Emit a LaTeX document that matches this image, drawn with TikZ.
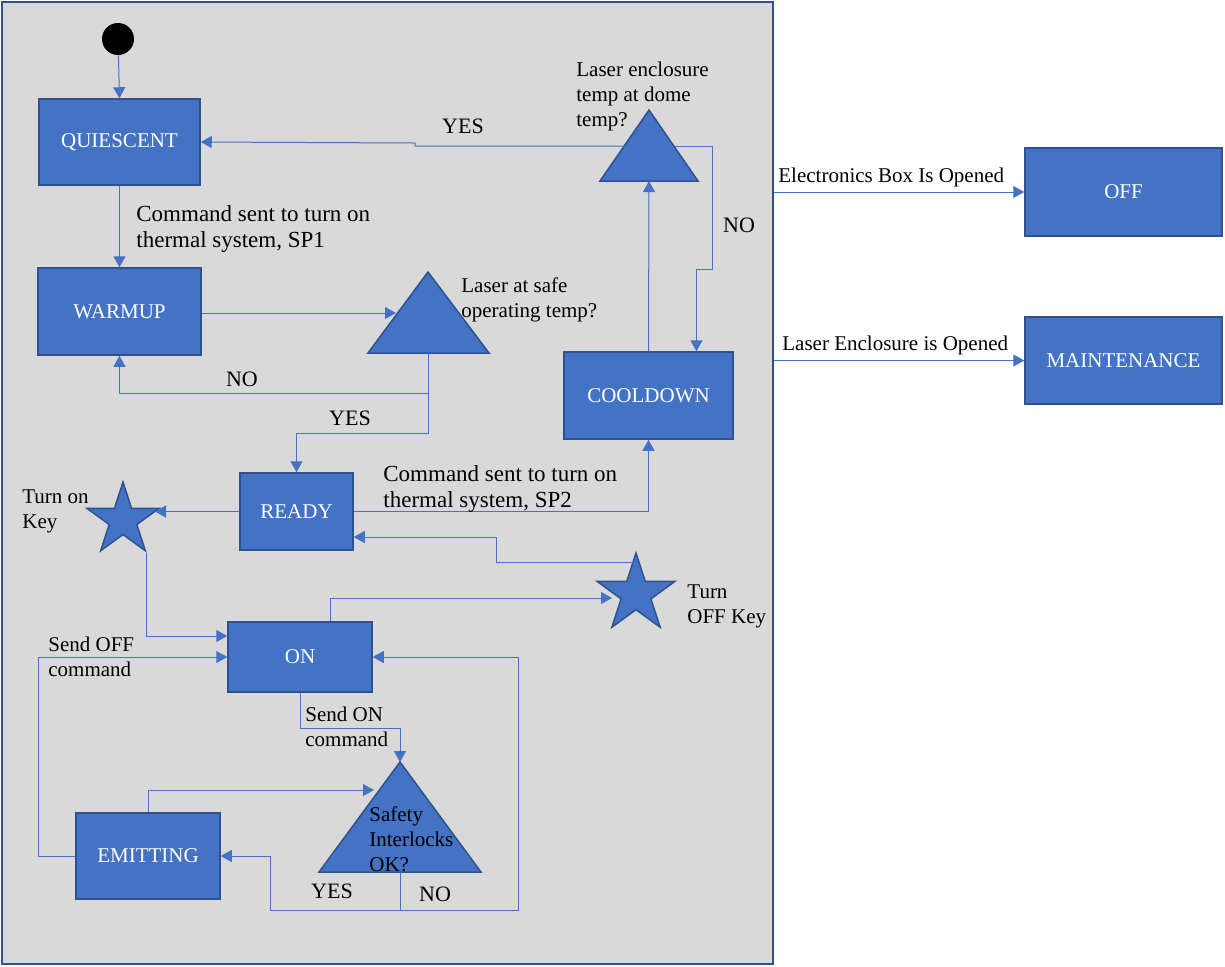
\documentclass[tikz,border=0pt]{standalone}
\usepackage{fontspec}
\setmainfont{Liberation Serif}
\usetikzlibrary{arrows.meta, shapes.geometric}
\definecolor{stateblue}{HTML}{4472C4}
\definecolor{stateedge}{HTML}{2F528F}
\definecolor{panelgray}{HTML}{D9D9D9}

\begin{document}
\begin{tikzpicture}[
    x=0.5pt, y=-0.5pt,
    state/.style={rectangle, draw=stateedge, fill=stateblue, line width=0.75pt, text=white, font=\fontsize{10.5}{12.5}\selectfont},
    decision/.style={draw=stateedge, fill=stateblue, line width=0.75pt},
    keystar/.style={star, star points=5, star point ratio=2.618, draw=stateedge, fill=stateblue, line width=0.75pt, inner sep=0pt},
    flow/.style={-{Triangle[length=5.5pt, width=6pt]}, stateblue, line width=0.5pt},
    note/.style={font=\fontsize{10.5}{12.5}\selectfont, align=left, anchor=north west, inner sep=0pt},
    cmd/.style={note, font=\fontsize{11.5}{13}\selectfont},
    answer/.style={font=\fontsize{11}{13}\selectfont, inner sep=0pt}
]

\path[use as bounding box] (0,0) rectangle (1225,966);

% Grey panel
\node[draw=stateedge, fill=panelgray, line width=0.8pt, minimum width=385.5pt, minimum height=481pt, inner sep=0pt] (panel) at (387.5,483) {};

% Initial state
\node[circle, fill=black, minimum size=16pt, inner sep=0pt] (init) at (118,39) {};

% States
\node[state, minimum width=80.5pt, minimum height=43pt] (quiescent) at (119.5,142) {QUIESCENT};
\node[state, minimum width=81.5pt, minimum height=43.5pt] (warmup) at (119.5,311.5) {WARMUP};
\node[state, minimum width=84.5pt, minimum height=43.5pt] (cooldown) at (648.5,395.5) {COOLDOWN};
\node[state, minimum width=56.5pt, minimum height=38.5pt] (ready) at (296.5,511.5) {READY};
\node[state, minimum width=72pt, minimum height=35pt] (on) at (300,657) {ON};
\node[state, minimum width=72pt, minimum height=43pt] (emitting) at (148,856) {EMITTING};
\node[state, minimum width=98.5pt, minimum height=44pt] (off) at (1123.5,192) {OFF};
\node[state, minimum width=98.5pt, minimum height=43.5pt] (maintenance) at (1123.5,360.5) {MAINTENANCE};

% Decisions
\coordinate (t1a) at (428,272);
\coordinate (t1b) at (428,353);
\filldraw[decision] (t1a) -- (368,353) -- (489,353) -- cycle;
\coordinate (t2a) at (649,110);
\coordinate (t2b) at (649,181);
\filldraw[decision] (t2a) -- (600,181) -- (698,181) -- cycle;
\coordinate (t3a) at (400,762);
\coordinate (t3b) at (400,872);
\filldraw[decision] (t3a) -- (319,872) -- (481,872) -- cycle;

% Keys
\node[keystar, minimum size=38pt] (keyon) at (123,520) {};
\node[keystar, minimum size=41pt] (keyoff) at (636,594) {};

% Arrow ends on the shapes
\coordinate (t1w) at (396,313);
\coordinate (t2w) at (625,146);
\coordinate (t2e) at (675,146);
\coordinate (t3w) at (374,790);
\coordinate (keyonR) at (155,511.5);
\coordinate (keyoffL) at (612,598);
\coordinate (keyoffT) at (633,562);

% Transitions
\draw[flow] (init) -- (quiescent.north);
\draw[flow] (quiescent.south) -- (warmup.north);
\draw[flow] (warmup.east |- t1w) -- (t1w);
\draw[flow] (t1b) -- ++(0,40) -| (warmup.south);
\draw[flow] (t1b) -- ++(0,80) -| (ready.north);
\draw[flow] (t2w) -| ++(-210,-3) -- (quiescent.east);
\draw[flow] (t2e) -| ++(37,123) -| ([xshift=24pt]cooldown.north);
\draw[flow] (cooldown.north) -- (t2b);
\draw[flow] (ready.east) -| (cooldown.south);
\draw[flow] (ready.west) -- (keyonR);
\draw[flow] (keyoffT) -| ++(-137,-25) -- ([yshift=-12.75pt]ready.east);
\draw[flow] (keyon.outer point 4) |- ([yshift=10.5pt]on.west);
\draw[flow] ([xshift=15pt]on.north) |- (keyoffL);
\draw[flow] (on.south) -- ++(0,36) -| (t3a);
\draw[flow] (t3b) -- ++(0,38) -| ++(-130,-54) -- (emitting.east);
\draw[flow] (t3b) -- ++(0,38) -| ++(118,-253) -- (on.east);
\draw[flow] (emitting.north) |- (t3w);
\draw[flow] (emitting.west) -- ++(-37,0) |- (on.west);
\draw[flow] (panel.east |- off.west) -- (off.west);
\draw[flow] (panel.east |- maintenance.west) -- (maintenance.west);

% Labels
\node[cmd] (lblsp1) at (136,205) {Command sent to turn on\\thermal system, SP1};
\node[note] (lblsafe) at (461,277) {Laser at safe\\operating temp?};
\node[note] (lbldome) at (576,62) {Laser enclosure\\temp at dome\\temp?};
\node[cmd] (lblsp2) at (383,465) {Command sent to turn on\\thermal system, SP2};
\node[note] (lblkeyon) at (22,489) {Turn on\\Key};
\node[note] (lblkeyoff) at (687,584) {Turn\\OFF Key};
\node[note] (lblsendoff) at (48,637) {Send OFF\\command};
\node[note] (lblsendon) at (305,707) {Send ON\\command};
\node[note] (lblsafety) at (369,806) {Safety\\Interlocks\\OK?};
\node[note] (lblebox) at (778,168) {Electronics Box Is Opened};
\node[note] (lblencl) at (782,336) {Laser Enclosure is Opened};
\node[answer] (yesdome) at (463,126) {YES};
\node[answer] (nodome) at (739,225) {NO};
\node[answer] (nowarm) at (242,379) {NO};
\node[answer] (yesready) at (350,418) {YES};
\node[answer] (yessafety) at (332,891) {YES};
\node[answer] (nosafety) at (435,894) {NO};

\end{tikzpicture}
\end{document}
